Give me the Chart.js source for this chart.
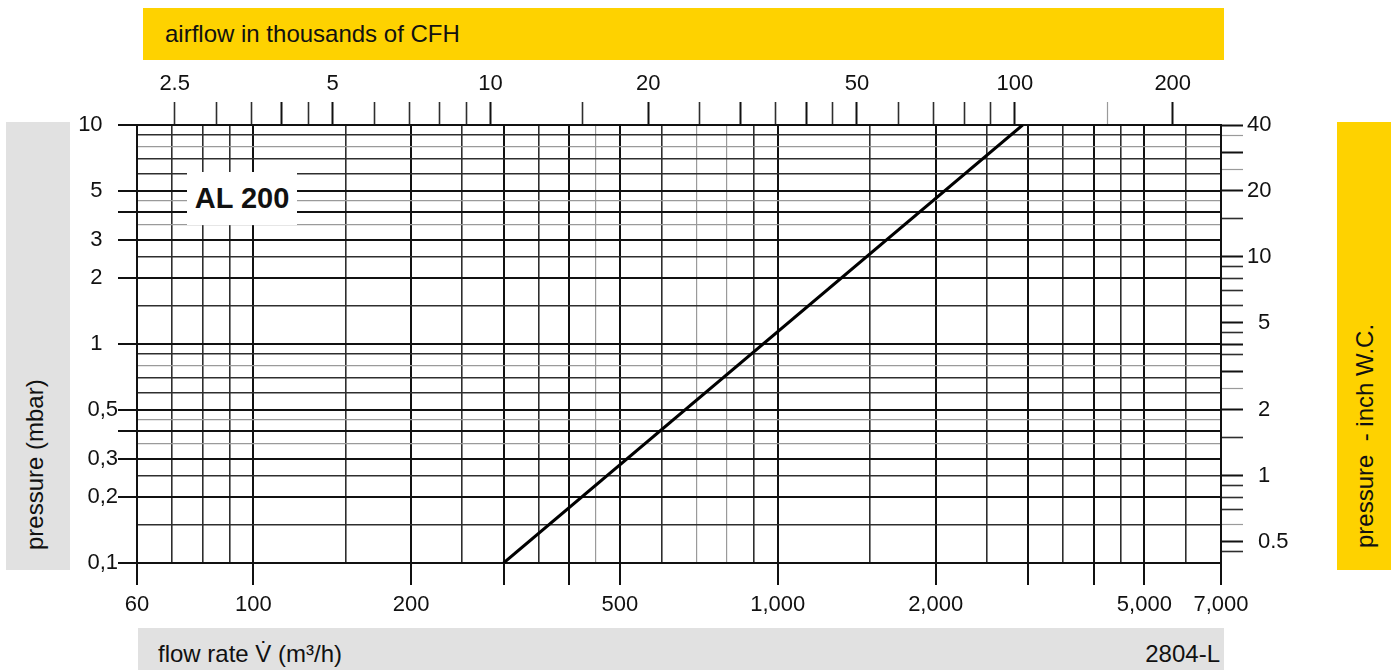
<!DOCTYPE html>
<html>
<head>
<meta charset="utf-8">
<script src="https://cdn.jsdelivr.net/npm/chart.js@4.4.1/dist/chart.umd.min.js"></script>
<style>
  html, body { margin: 0; padding: 0; background: #fff; overflow: hidden; }
  #wrap { position: relative; width: 1391px; height: 670px; font-family: 'Liberation Sans', Arial, sans-serif; color: #111; }
  #chart { position: absolute; left: 0; top: 0; }
  .band { position: absolute; font-size: 24px; white-space: pre; }
  .yellow { background: #fed200; }
  .grey { background: #e1e1e1; }
  .turn { position: absolute; transform-origin: 0 0; transform: rotate(-90deg); line-height: 26px; white-space: pre; font-size: 24px; }
  .low { position: absolute; top: 0; line-height: 52px; }
  #model { position: absolute; left: 187px; top: 172px; width: 110px; height: 53px; background: #fff;
           font-weight: bold; font-size: 29px; line-height: 53px; text-align: center; }
</style>
</head>
<body>
<div id="wrap">
  <canvas id="chart" width="1391" height="670"></canvas>
  <div class="band yellow" style="left:143px; top:8px; width:1059px; height:52px; line-height:52px; padding-left:22px;">airflow in thousands of CFH</div>
  <div class="band grey" style="left:6px; top:122px; width:64px; height:448px;"><span class="turn" style="left:16px; top:428px;">pressure (mbar)</span></div>
  <div class="band yellow" style="left:1337px; top:122px; width:54px; height:448px;"><span class="turn" style="left:15px; top:426px;">pressure  - inch W.C.</span></div>
  <div class="band grey" style="left:138px; top:628px; width:1086px; height:42px;"><span class="low" style="left:20px;">flow rate V&#775; (m³/h)</span><span class="low" style="right:4px;">2804-L</span></div>
  <div id="model">AL 200</div>
</div>
<script>
// Kennlinie: Durchfluss (m³/h) -> Druckverlust (mbar)
var flowRate = [300, 2930];
var pressure = [0.1, 10];

// untere Achse m³/h
var flowGrid = [60, 70, 80, 90, 100, 150, 200, 250, 300, 350, 400, 450, 500, 600, 700, 800, 900,
                1000, 1500, 2000, 2500, 3000, 3500, 4000, 4500, 5000, 6000, 7000];
var flowMarks = [60, 100, 200, 300, 400, 500, 1000, 2000, 3000, 4000, 5000, 7000];
var flowLabels = [60, 100, 200, 500, 1000, 2000, 5000, 7000];
var flowThin = [450, 700, 800];

// obere Achse, tausend CFH
var cfhTicks = [2.5, 3, 3.5, 4, 4.5, 5, 6, 7, 8, 9, 10, 15, 20, 25, 30, 35, 40, 45, 50,
                60, 70, 80, 90, 100, 150, 200];
var cfhLabels = [2.5, 5, 10, 20, 50, 100, 200];
var cfhMajor = [4, 5, 10, 20, 30, 40, 50, 100, 200];
var cfhThin = [150];

// linke Achse mbar
var mbarGrid = [0.1, 0.15, 0.2, 0.25, 0.3, 0.35, 0.4, 0.45, 0.5, 0.6, 0.7, 0.8, 0.9,
                1, 1.5, 2, 2.5, 3, 3.5, 4, 4.5, 5, 6, 7, 8, 9, 10];
var mbarMarks = [0.1, 0.2, 0.3, 0.4, 0.5, 1, 2, 3, 4, 5, 10];
var mbarLabels = [0.1, 0.2, 0.3, 0.5, 1, 2, 3, 5, 10];
var mbarThin = [0.35, 0.45, 0.8, 3.5, 4.5, 8];

// rechte Achse inch W.C.
var inchTicks = [0.45, 0.5, 0.6, 0.7, 0.8, 0.9, 1, 1.5, 2, 2.5, 3, 3.6, 4, 4.5, 5, 6, 7, 8, 9,
                 10, 15, 20, 25, 30, 36, 40];
var inchLabels = [0.5, 1, 2, 5, 10, 20, 40];
var inchMajor = [0.5, 1, 2, 3, 4, 5, 10, 20, 30, 40];
var inchThin = [0.6, 2.5, 25, 36];

var CFH = 0.0353147; // 1 m³/h in tausend CFH

function has(list, v) { return list.indexOf(v) >= 0; }
function lineColor(v, major, thin) { return has(major, v) ? '#111' : (has(thin, v) ? '#9a9a9a' : '#2e2e2e'); }
function lineWidth(v, major, thin) { return has(major, v) ? 2 : (has(thin, v) ? 1.2 : 1.6); }
function setTicks(list) { return function (s) { s.ticks = list.map(function (v) { return { value: v }; }); }; }

Chart.defaults.font.family = "'Liberation Sans', Arial, sans-serif";
Chart.defaults.font.size = 22;
Chart.defaults.color = '#111';

var ctx = document.getElementById('chart').getContext('2d');
var myChart = new Chart(ctx, {
  type: 'line',
  data: {
    datasets: [{
      data: flowRate.map(function (v, i) { return { x: v, y: pressure[i] }; }),
      borderColor: '#000',
      borderWidth: 3,
      pointRadius: 0,
      xAxisID: 'x',
      yAxisID: 'y'
    }]
  },
  options: {
    responsive: false,
    animation: false,
    events: [],
    layout: { padding: 0 },
    plugins: { legend: { display: false }, tooltip: { enabled: false } },
    scales: {
      x: {
        type: 'logarithmic', position: 'bottom', min: 60, max: 7000,
        afterBuildTicks: setTicks(flowGrid),
        afterFit: function (s) { s.height = 107; },
        ticks: {
          autoSkip: false, maxRotation: 0, minRotation: 0, padding: 7,
          callback: function (v) { return has(flowLabels, v) ? v.toLocaleString('en-US') : ''; }
        },
        grid: {
          color: function (c) { return lineColor(c.tick.value, flowMarks, flowThin); },
          lineWidth: function (c) { return lineWidth(c.tick.value, flowMarks, flowThin); },
          tickLength: 22,
          tickColor: function (c) { return has(flowMarks, c.tick.value) ? '#111' : 'rgba(0,0,0,0)'; },
          tickWidth: 2
        },
        border: { color: '#111', width: 2 }
      },
      x2: {
        type: 'logarithmic', position: 'top', min: 60 * CFH, max: 7000 * CFH,
        afterBuildTicks: setTicks(cfhTicks),
        afterFit: function (s) { s.height = 125; },
        ticks: {
          autoSkip: false, maxRotation: 0, minRotation: 0, padding: 5,
          callback: function (v) { return has(cfhLabels, v) ? String(v) : ''; }
        },
        grid: {
          drawOnChartArea: false,
          tickLength: 23,
          tickColor: function (c) { return lineColor(c.tick.value, cfhMajor, cfhThin); },
          tickWidth: function (c) { return lineWidth(c.tick.value, cfhMajor, cfhThin); }
        },
        border: { color: '#111', width: 2 }
      },
      y: {
        type: 'logarithmic', position: 'left', min: 0.1, max: 10,
        afterBuildTicks: setTicks(mbarGrid),
        afterFit: function (s) { s.width = 137; },
        ticks: {
          autoSkip: false, padding: 0,
          callback: function (v) {
            if (!has(mbarLabels, v)) return '';
            return v < 1 ? String(v).replace('.', ',') : v + '\u2002\u2009';
          }
        },
        grid: {
          color: function (c) { return lineColor(c.tick.value, mbarMarks, mbarThin); },
          lineWidth: function (c) { return lineWidth(c.tick.value, mbarMarks, mbarThin); },
          tickLength: 19,
          tickColor: function (c) { return has(mbarMarks, c.tick.value) ? '#111' : 'rgba(0,0,0,0)'; },
          tickWidth: 2
        },
        border: { color: '#111', width: 2 }
      },
      y2: {
        type: 'logarithmic', position: 'right', min: 0.4, max: 40,
        afterBuildTicks: setTicks(inchTicks),
        afterFit: function (s) { s.width = 170; },
        ticks: {
          autoSkip: false, padding: 4,
          callback: function (v) {
            if (!has(inchLabels, v)) return '';
            return String(v).length === 2 ? String(v) : '\u2002' + v;
          }
        },
        grid: {
          drawOnChartArea: false,
          tickLength: 22,
          tickColor: function (c) { return lineColor(c.tick.value, inchMajor, inchThin); },
          tickWidth: function (c) { return lineWidth(c.tick.value, inchMajor, inchThin); }
        },
        border: { color: '#111', width: 2 }
      }
    }
  }
});
</script>
</body>
</html>
